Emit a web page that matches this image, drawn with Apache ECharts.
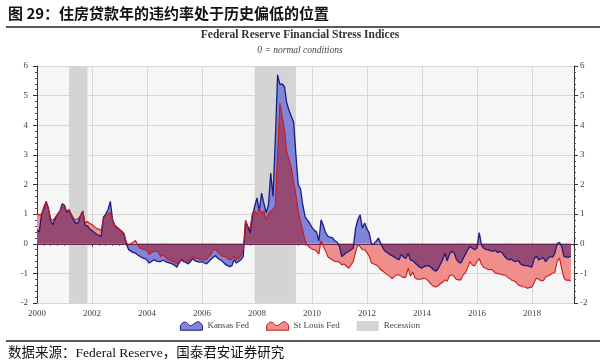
<!DOCTYPE html>
<html><head><meta charset="utf-8">
<script src="https://cdn.jsdelivr.net/npm/echarts@6/dist/echarts.min.js"></script>
<style>html,body{margin:0;padding:0;background:#fff;}#c{width:600px;height:364px;}</style>
</head><body><div id="c"></div>
<script>
// Monthly data, Jan 2000 .. Jun 2019
const startYear = 2000;
const kansasFed = [
  0.47, 0.40, 1.00, 1.20, 1.43, 1.20, 0.75, 0.65, 0.85, 1.00, 1.10, 1.35,   // 2000
  1.30, 1.05, 1.15, 0.95, 0.80, 0.68, 0.72, 0.95, 1.10, 0.62, 0.60, 0.50,   // 2001
  0.45, 0.38, 0.32, 0.28, 0.25, 0.90, 1.00, 1.15, 1.43, 0.80, 0.62, 0.55,   // 2002
  0.48, 0.42, 0.30, 0.00, -0.20, -0.25, -0.30, -0.32, -0.38, -0.43, -0.48, -0.50, // 2003
  -0.55, -0.65, -0.60, -0.54, -0.58, -0.60, -0.60, -0.55, -0.60, -0.63, -0.65, -0.68, // 2004
  -0.72, -0.79, -0.65, -0.54, -0.60, -0.63, -0.68, -0.60, -0.50, -0.58, -0.60, -0.62, // 2005
  -0.60, -0.65, -0.68, -0.60, -0.52, -0.45, -0.40, -0.50, -0.54, -0.60, -0.68, -0.73, // 2006
  -0.77, -0.75, -0.54, -0.65, -0.60, -0.54, -0.43, 0.70, 0.58, 0.36, 0.92, 1.26,  // 2007
  1.55, 1.10, 1.71, 1.37, 1.05, 1.30, 2.39, 1.60, 3.50, 5.70, 5.37, 5.40,   // 2008
  5.30, 4.75, 4.50, 4.30, 4.10, 3.00, 2.00, 1.85, 1.30, 0.92, 0.80, 0.70,   // 2009
  0.55, 0.45, 0.40, 0.10, 0.81, 0.60, 0.36, 0.25, 0.22, 0.20, 0.10, 0.05,   // 2010
  -0.09, -0.43, -0.37, -0.30, -0.26, -0.20, -0.15, 0.50, 0.81, 0.98, 0.53, 0.70, // 2011
  0.50, 0.36, -0.03, 0.00, 0.08, 0.19, 0.02, -0.15, -0.26, -0.30, -0.37, -0.40, // 2012
  -0.45, -0.50, -0.54, -0.36, -0.45, -0.50, -0.32, -0.55, -0.57, -0.65, -0.72, -0.79, // 2013
  -0.82, -0.77, -0.75, -0.74, -0.80, -0.88, -0.93, -0.85, -0.70, -0.55, -0.32, -0.58, // 2014
  -0.35, -0.26, -0.30, -0.52, -0.62, -0.65, -0.50, -0.35, -0.20, -0.09, -0.15, -0.20, // 2015
  -0.15, 0.38, -0.05, -0.15, -0.20, -0.20, -0.24, -0.25, -0.22, -0.30, -0.26, -0.30, // 2016
  -0.42, -0.50, -0.54, -0.52, -0.58, -0.60, -0.56, -0.68, -0.72, -0.74, -0.74, -0.77, // 2017
  -0.79, -0.50, -0.42, -0.55, -0.50, -0.48, -0.60, -0.50, -0.43, -0.45, -0.32, 0.00, // 2018
  0.05, -0.10, -0.43, -0.45, -0.45, -0.42                                     // 2019
];
const stLouisFed = [
  1.00, 0.97, 1.00, 1.25, 1.43, 1.15, 0.85, 0.78, 0.90, 1.00, 1.10, 1.25,   // 2000
  1.25, 1.10, 1.15, 1.00, 0.85, 0.80, 0.85, 0.95, 1.10, 0.70, 0.75, 0.68,   // 2001
  0.65, 0.58, 0.52, 0.50, 0.45, 0.85, 0.95, 1.00, 1.06, 0.80, 0.62, 0.55,   // 2002
  0.48, 0.42, 0.35, 0.05, -0.05, 0.00, 0.05, 0.11, -0.05, -0.15, -0.18, -0.20, // 2003
  -0.22, -0.37, -0.30, -0.26, -0.24, -0.30, -0.43, -0.37, -0.45, -0.54, -0.55, -0.60, // 2004
  -0.62, -0.68, -0.60, -0.52, -0.54, -0.56, -0.60, -0.52, -0.43, -0.48, -0.50, -0.52, // 2005
  -0.54, -0.55, -0.54, -0.43, -0.35, -0.20, -0.20, -0.30, -0.37, -0.43, -0.42, -0.48, // 2006
  -0.54, -0.52, -0.43, -0.54, -0.50, -0.40, -0.20, 0.80, 0.60, 0.50, 1.03, 1.10, // 2007
  1.00, 1.20, 1.03, 1.10, 0.80, 1.00, 1.10, 1.15, 1.26, 3.00, 4.75, 4.30,   // 2008
  3.85, 3.10, 2.85, 2.55, 2.10, 1.65, 1.10, 0.75, 0.45, 0.10, -0.05, -0.12, // 2009
  -0.18, -0.20, -0.25, -0.35, 0.10, -0.10, -0.25, -0.45, -0.50, -0.55, -0.60, -0.60, // 2010
  -0.62, -0.71, -0.68, -0.75, -0.82, -0.72, -0.60, -0.30, -0.03, -0.10, -0.20, -0.20, // 2011
  -0.30, -0.43, -0.65, -0.68, -0.71, -0.77, -0.88, -0.93, -0.99, -1.05, -1.10, -1.18, // 2012
  -1.10, -1.05, -1.05, -1.10, -1.15, -1.12, -0.82, -1.10, -0.95, -1.16, -1.20, -1.20, // 2013
  -1.19, -1.16, -1.20, -1.27, -1.37, -1.43, -1.46, -1.42, -1.35, -1.30, -1.22, -1.27, // 2014
  -1.08, -1.05, -1.10, -1.20, -1.22, -1.22, -1.05, -0.98, -0.80, -0.60, -0.72, -0.75, // 2015
  -0.60, -0.50, -0.70, -0.80, -0.83, -0.88, -0.86, -0.90, -0.99, -1.00, -1.02, -1.05, // 2016
  -1.05, -1.10, -1.16, -1.22, -1.25, -1.30, -1.39, -1.42, -1.45, -1.46, -1.50, -1.48, // 2017
  -1.46, -1.30, -1.16, -1.20, -1.25, -1.25, -1.12, -1.08, -1.05, -0.99, -0.97, -0.60, // 2018
  -0.48, -0.85, -1.16, -1.24, -1.22, -1.27                                     // 2019
];
const recessions = [[2001, 3, 2001, 11], [2007, 12, 2009, 6]]; // start y/m, end y/m
const xTickLabels = ['2000','2002','2004','2006','2008','2010','2012','2014','2016','2018'];
const yTickLabels = ['-2','-1','0','1','2','3','4','5','6'];

const toYear = (y, m) => y + (m - 1) / 12;
const dates = kansasFed.map((_, i) => startYear + i / 12);
const kPts = kansasFed.map((v, i) => [dates[i], v]);
const rPts = stLouisFed.map((v, i) => [dates[i], v]);
const ovPts = kansasFed.map((k, i) => {
  const r = stLouisFed[i];
  let v = 0;
  if (k >= 0 && r >= 0) v = Math.min(k, r);
  else if (k <= 0 && r <= 0) v = Math.max(k, r);
  return [dates[i], v];
});

const C_BLUE_FILL = '#8085da', C_BLUE_LINE = '#1b1b80';
const C_RED_FILL = '#ef8e8a', C_RED_LINE = '#c81a1a';
const C_OVER = '#964a73', C_REC = '#d4d4d4';
const SERIF = '"Liberation Serif", "Times New Roman", serif';
const wave = 'path://M0,12 L0,7 C3,2 6,2 9,6 C12,9 15,4 18,3 C21,2 23,5 24,7 L24,12 Z';

const chart = echarts.init(document.getElementById('c'), null, {renderer: 'canvas'});
chart.setOption({
  animation: false,
  backgroundColor: '#fff',
  title: [
    {text: '图 29：住房贷款年的违约率处于历史偏低的位置', left: 8, top: 6, padding: 0,
     textStyle: {fontFamily: '"Noto Sans CJK SC", sans-serif', fontWeight: 'bold', fontSize: 15, color: '#111'}},
    {text: 'Federal Reserve Financial Stress Indices', left: 'center', top: 29, padding: 0,
     textStyle: {fontFamily: SERIF, fontWeight: 'bold', fontSize: 11.5, color: '#333'}},
    {text: '0 = normal conditions', left: 'center', top: 45, padding: 0,
     textStyle: {fontFamily: SERIF, fontStyle: 'italic', fontWeight: 'normal', fontSize: 9.5, color: '#444'}},
    {text: '数据来源：Federal Reserve，国泰君安证券研究', left: 8, top: 347, padding: 0,
     textStyle: {fontFamily: '"Liberation Serif", "Noto Sans CJK SC", serif', fontWeight: 'normal', fontSize: 13.5, color: '#111'}}
  ],
  graphic: [
    {type: 'line', shape: {x1: 6, y1: 27, x2: 600, y2: 27}, style: {stroke: '#222', lineWidth: 1.5}},
    {type: 'line', shape: {x1: 6, y1: 341, x2: 600, y2: 341}, style: {stroke: '#222', lineWidth: 1.5}}
  ],
  legend: {
    left: 'center', top: 321, itemWidth: 22, itemHeight: 10, itemGap: 17, padding: 0,
    textStyle: {fontFamily: SERIF, fontSize: 9, color: '#444'},
    data: [
      {name: 'Kansas Fed', icon: wave, itemStyle: {color: C_BLUE_FILL, borderColor: C_BLUE_LINE, borderWidth: 1}},
      {name: 'St Louis Fed', icon: wave, itemStyle: {color: C_RED_FILL, borderColor: C_RED_LINE, borderWidth: 1}},
      {name: 'Recession', icon: 'rect', itemStyle: {color: C_REC, borderWidth: 0}}
    ]
  },
  grid: {left: 37, right: 26, top: 66, bottom: 61, show: true, backgroundColor: '#f6f6f6', borderWidth: 0},
  xAxis: {
    type: 'value', min: 2000, max: 2019.53, interval: 2,
    axisLine: {lineStyle: {color: '#333', width: 1}},
    axisTick: {length: 3, lineStyle: {color: '#333'}},
    minorTick: {show: true, splitNumber: 8, length: 2, lineStyle: {color: '#555'}},
    splitLine: {show: true, lineStyle: {color: '#d6d6d6', width: 1}},
    axisLabel: {fontFamily: SERIF, fontSize: 9, color: '#444', margin: 6, showMaxLabel: false,
      formatter: v => { const s = String(Math.round(v)); return (Math.abs(v - Math.round(v)) < 1e-6 && xTickLabels.includes(s)) ? s : ''; }}
  },
  yAxis: [
    {type: 'value', min: -2, max: 6, interval: 1, position: 'left',
     axisLine: {show: true, lineStyle: {color: '#333'}},
     axisTick: {show: true, length: 4, lineStyle: {color: '#333'}},
     minorTick: {show: true, splitNumber: 5, length: 2, lineStyle: {color: '#555'}},
     splitLine: {show: true, lineStyle: {color: '#d6d6d6', width: 1}},
     axisLabel: {fontFamily: SERIF, fontSize: 9, color: '#444', margin: 9,
       formatter: v => yTickLabels[Math.round(v) + 2]}},
    {type: 'value', min: -2, max: 6, interval: 1, position: 'right',
     axisLine: {show: true, lineStyle: {color: '#333'}},
     axisTick: {show: true, length: 4, lineStyle: {color: '#333'}},
     minorTick: {show: true, splitNumber: 5, length: 2, lineStyle: {color: '#555'}},
     splitLine: {show: false},
     axisLabel: {fontFamily: SERIF, fontSize: 9, color: '#444', margin: 6,
       formatter: v => yTickLabels[Math.round(v) + 2]}}
  ],
  series: [
    {name: 'Recession', type: 'line', data: [], z: 1, itemStyle: {color: C_REC},
     markArea: {silent: true, itemStyle: {color: C_REC, opacity: 1},
       data: recessions.map(r => [{xAxis: toYear(r[0], r[1])}, {xAxis: toYear(r[2], r[3])}])}},
    {name: 'Kansas Fed', type: 'line', data: kPts, z: 2, showSymbol: false, symbol: 'none',
     itemStyle: {color: C_BLUE_FILL}, lineStyle: {width: 0, opacity: 0},
     areaStyle: {color: C_BLUE_FILL, opacity: 1}},
    {name: 'St Louis Fed', type: 'line', data: rPts, z: 3, showSymbol: false, symbol: 'none',
     itemStyle: {color: C_RED_FILL}, lineStyle: {width: 0, opacity: 0},
     areaStyle: {color: C_RED_FILL, opacity: 1}},
    {name: 'overlap', type: 'line', data: ovPts, z: 4, showSymbol: false, symbol: 'none',
     lineStyle: {width: 0, opacity: 0}, areaStyle: {color: C_OVER, opacity: 1},
     markLine: {silent: true, symbol: 'none', label: {show: false},
       lineStyle: {color: '#6b2350', width: 1, type: 'solid'}, data: [{yAxis: 0}]}},
    {name: 'Kansas line', type: 'line', data: kPts, z: 5, showSymbol: false, symbol: 'none',
     lineStyle: {color: C_BLUE_LINE, width: 1.3}},
    {name: 'St Louis line', type: 'line', data: rPts, z: 6, showSymbol: false, symbol: 'none',
     lineStyle: {color: C_RED_LINE, width: 1.1}}
  ]
});
</script></body></html>
